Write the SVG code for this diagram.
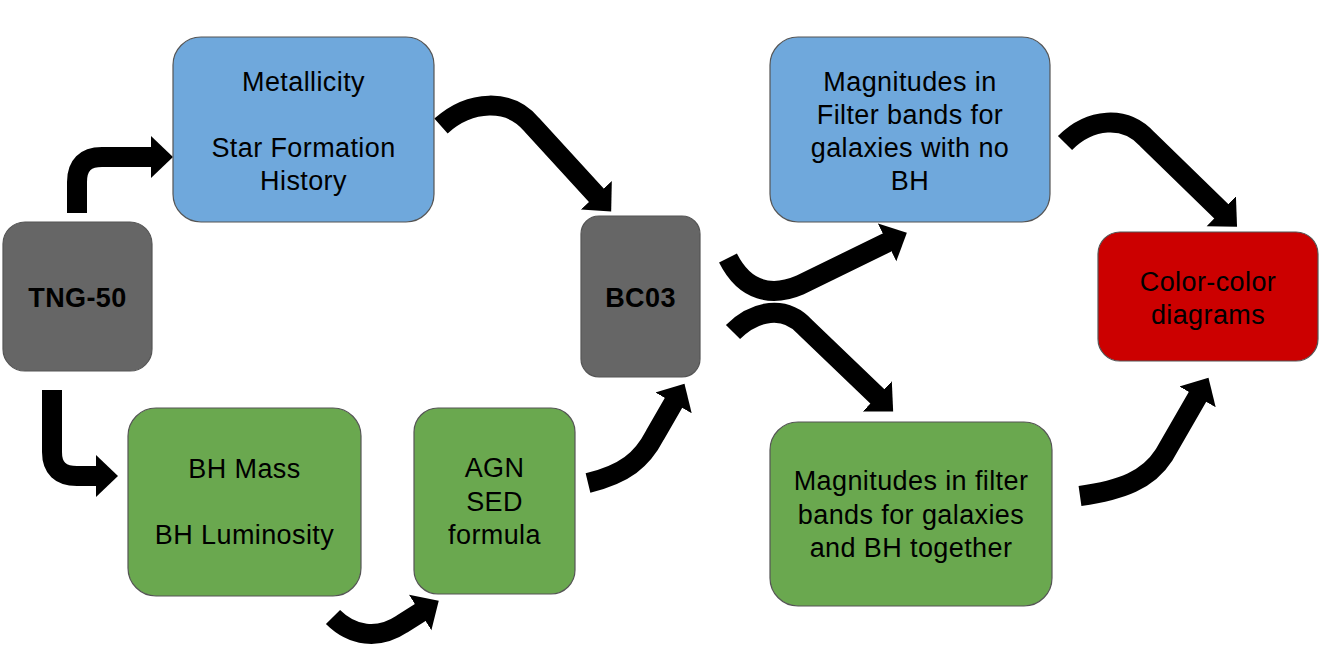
<svg xmlns="http://www.w3.org/2000/svg" width="1321" height="652" viewBox="0 0 1321 652">
<defs>
<style>
.box{stroke:#555555;stroke-width:1.2}
.grey{fill:#666666}
.blue{fill:#6fa8dc}
.green{fill:#6aa84f}
.red{fill:#cc0000}
.t{font-family:"Liberation Sans",Arial,sans-serif;font-size:27px;letter-spacing:0.4px;fill:#000;text-anchor:middle}
.b{font-weight:bold}
.arr{fill:none;stroke:#000;stroke-width:20;stroke-linejoin:round;stroke-linecap:butt;marker-end:url(#head)}
</style>
<marker id="head" markerUnits="userSpaceOnUse" markerWidth="24" markerHeight="44" viewBox="0 0 24 44" refX="1" refY="22" orient="auto">
<path d="M0,1 L22,22 L0,43 z" fill="#000"/>
</marker>
</defs>
<rect width="1321" height="652" fill="#ffffff"/>
<g id="connectors">
<path class="arr" d="M77,213 V182 Q77,157 102,157 H152"/>
<path class="arr" d="M441,126 C470,100 510,98 532,125 L597,196"/>
<path class="arr" d="M728,258 C745,292 772,297 800,285 L888,242"/>
<path class="arr" d="M733,332 C755,310 785,305 805,327 L878,397"/>
<path class="arr" d="M52,390 V452 Q52,476 77,476 H97"/>
<path class="arr" d="M333,617 C352,636 378,640 402,624 L421,612"/>
<path class="arr" d="M588,483 C625,474 642,460 655,435 L674,402"/>
<path class="arr" d="M1065,143 C1090,118 1125,115 1147,139 L1222,212"/>
<path class="arr" d="M1080,496 C1122,490 1148,480 1164,455 L1198,396"/>
</g>
<g id="tng50">
<rect class="box grey" x="3" y="222" width="149" height="149" rx="22"/>
<text class="t b" x="77.5" y="307">TNG-50</text>
</g>
<g id="metallicity">
<rect class="box blue" x="173" y="37" width="261" height="185" rx="28"/>
<text class="t" x="303.5" y="91">Metallicity</text>
<text class="t" x="303.5" y="157">Star Formation</text>
<text class="t" x="303.5" y="190">History</text>
</g>
<g id="bc03">
<rect class="box grey" x="581" y="216" width="119" height="161" rx="18"/>
<text class="t b" x="640.5" y="307">BC03</text>
</g>
<g id="bh">
<rect class="box green" x="128" y="408" width="233" height="188" rx="28"/>
<text class="t" x="244.5" y="478">BH Mass</text>
<text class="t" x="244.5" y="544">BH Luminosity</text>
</g>
<g id="agn">
<rect class="box green" x="414" y="408" width="161" height="186" rx="24"/>
<text class="t" x="494.5" y="477">AGN</text>
<text class="t" x="494.5" y="511">SED</text>
<text class="t" x="494.5" y="544">formula</text>
</g>
<g id="mag-nobh">
<rect class="box blue" x="770" y="37" width="280" height="185" rx="28"/>
<text class="t" x="910" y="91">Magnitudes in</text>
<text class="t" x="910" y="124">Filter bands for</text>
<text class="t" x="910" y="157">galaxies with no</text>
<text class="t" x="910" y="190">BH</text>
</g>
<g id="mag-bh">
<rect class="box green" x="770" y="422" width="282" height="184" rx="28"/>
<text class="t" x="911" y="490">Magnitudes in filter</text>
<text class="t" x="911" y="524">bands for galaxies</text>
<text class="t" x="911" y="557">and BH together</text>
</g>
<g id="colorcolor">
<rect class="box red" x="1098" y="232" width="220" height="129" rx="22"/>
<text class="t" x="1208" y="291">Color-color</text>
<text class="t" x="1208" y="324">diagrams</text>
</g>
</svg>
